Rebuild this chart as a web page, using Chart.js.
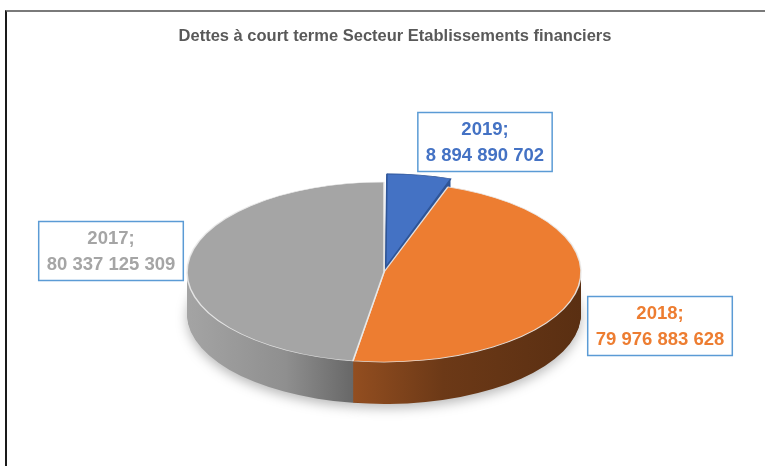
<html>
<head>
  <script src="https://cdn.jsdelivr.net/npm/chart.js@4.4.0/dist/chart.umd.min.js"></script>
</head>

<body style="padding: 0; margin: 0; background: #fff; font-family: 'Liberation Sans', arial;">

<div style="position: absolute; left: 5px; top: 10px; width: 760px; height: 456px; border-top: 2px solid #7a7a7a; border-left: 2px solid #1a1a1a;"></div>
<canvas id="chart" width="765" height="466" style="position: absolute; left: 0; top: 0;"></canvas>

<script>
  // data (clockwise from 12 o'clock)
  const labels = ['2019', '2018', '2017']
  const values = [8894890702, 79976883628, 80337125309]
  const topColors = ['#4472C4', '#ED7D31', '#A5A5A5']
  const edgeColors = ['#2f5597', 'rgba(235,235,235,0.9)', 'rgba(235,235,235,0.9)']
  const title = 'Dettes à court terme Secteur Etablissements financiers'

  // where the callout boxes sit (centre of box, screen px)
  const boxPos = [[485, 142], [660, 326], [111, 251]]

  const fmt = v => String(v).replace(/\B(?=(\d{3})+(?!\d))/g, ' ')

  const sideFill = (ctx, i, x0, x1) => {
    if (i === 0) return '#2f5597'
    const g = ctx.createLinearGradient(x0, 0, x1, 0)
    if (i === 1) {
      g.addColorStop(0, '#9a5222'); g.addColorStop(0.42, '#934e20')
      g.addColorStop(0.65, '#6c3917'); g.addColorStop(1, '#5a2f12')
    } else {
      g.addColorStop(0, '#a4a4a4'); g.addColorStop(0.25, '#8f8f8f')
      g.addColorStop(0.42, '#686868'); g.addColorStop(1, '#5c5c5c')
    }
    return g
  }

  // squash the pie into an ellipse and give it a side
  const pie3d = {
    id: 'pie3d',
    beforeDatasetsDraw(chart, args, opts) {
      const ctx = chart.ctx
      const meta = chart.getDatasetMeta(0)
      const c = meta.data[0]
      const r = c.outerRadius
      const setT = dy => {
        ctx.translate(opts.cx, opts.cy + dy)
        ctx.scale(opts.rx / r, opts.ry / r)
        ctx.translate(-c.x, -c.y)
      }
      for (let d = opts.depth; d >= 1; d--) {
        ctx.save()
        setT(d)
        if (d === opts.depth) {
          ctx.shadowColor = 'rgba(0,0,0,0.28)'
          ctx.shadowBlur = 12
          ctx.shadowOffsetY = 4
        }
        meta.data.forEach((arc, i) => {
          const orig = arc.options
          arc.options = Object.assign({}, orig, {backgroundColor: sideFill(ctx, i, c.x - r, c.x + r), borderWidth: 0})
          arc.draw(ctx)
          arc.options = orig
        })
        ctx.restore()
      }
      ctx.save()
      setT(0)
    },
    afterDatasetsDraw(chart) {
      chart.ctx.restore()
    },
    afterDraw(chart) {
      const ctx = chart.ctx
      ctx.save()
      ctx.font = 'bold 18.5px "Liberation Sans", arial'
      ctx.textAlign = 'center'
      ctx.textBaseline = 'middle'
      labels.forEach((l, i) => {
        const lines = [l + ';', fmt(values[i])]
        const w = Math.max(...lines.map(t => ctx.measureText(t).width)) + 16
        const h = 59
        const [x, y] = boxPos[i]
        ctx.fillStyle = '#fff'
        ctx.fillRect(x - w / 2, y - h / 2, w, h)
        ctx.strokeStyle = '#5b9bd5'
        ctx.lineWidth = 1.5
        ctx.strokeRect(x - w / 2, y - h / 2, w, h)
        ctx.fillStyle = topColors[i]
        ctx.fillText(lines[0], x, y - 12)
        ctx.fillText(lines[1], x, y + 14)
      })
      ctx.restore()
    }
  }

  new Chart(document.getElementById('chart').getContext('2d'), {
    type: 'pie',
    data: {
      labels: labels,
      datasets: [{
        data: values,
        backgroundColor: topColors,
        borderColor: edgeColors,
        borderWidth: 1.5,
        offset: [40, 0, 0],
      }]
    },
    options: {
      responsive: false,
      animation: false,
      events: [],
      layout: {padding: {left: 25}},
      plugins: {
        legend: {display: false},
        tooltip: {enabled: false},
        title: {
          display: true,
          text: title,
          color: '#595959',
          font: {family: 'Liberation Sans', size: 16.5, weight: 'bold'},
          padding: {top: 27, bottom: 10},
        },
        pie3d: {cx: 384, cy: 272, rx: 197, ry: 90, depth: 42},
      }
    },
    plugins: [pie3d]
  })
</script>
</body>
</html>
